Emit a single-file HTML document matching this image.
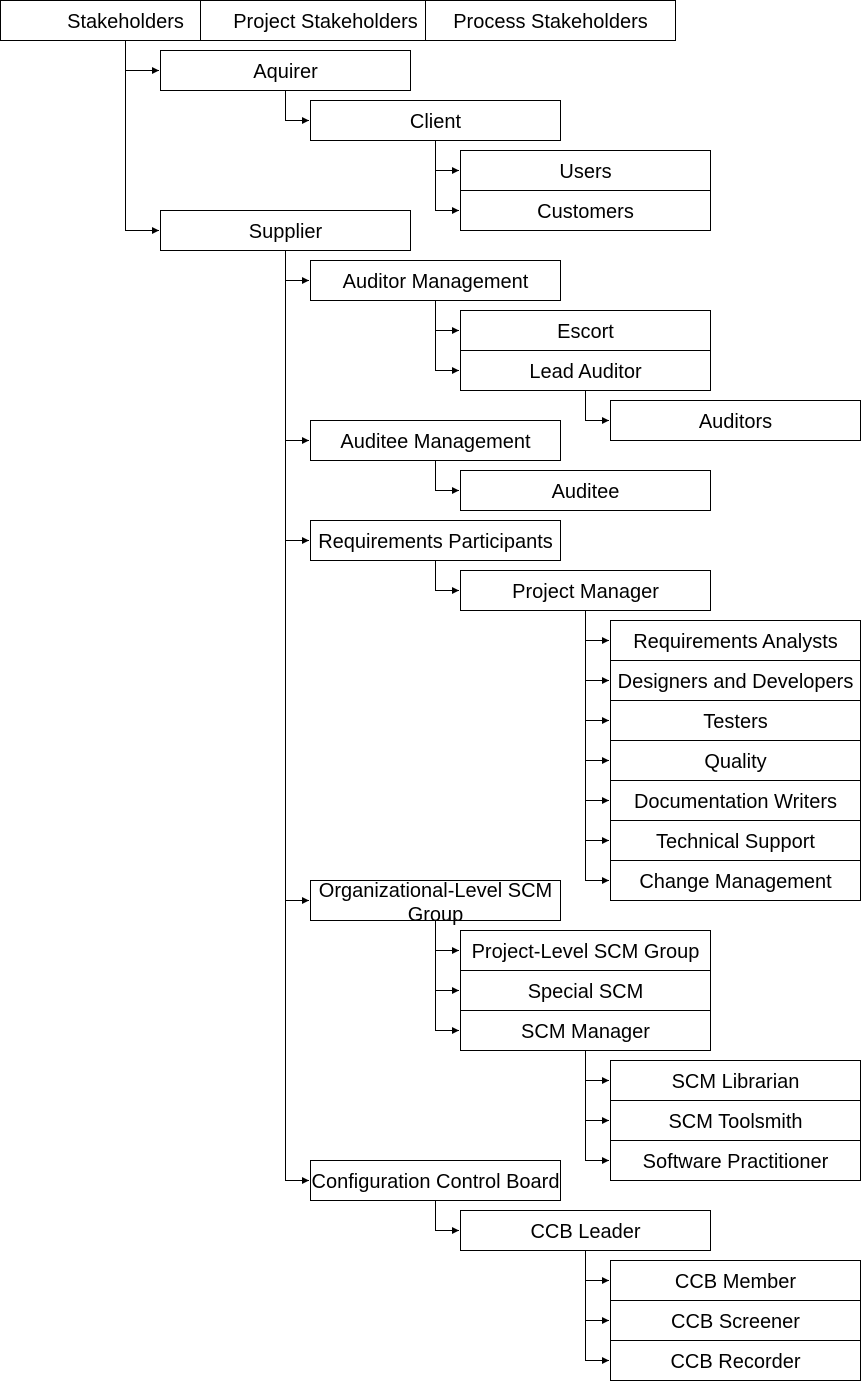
<!DOCTYPE html>
<html><head><meta charset="utf-8"><style>
html,body{margin:0;padding:0;background:#fff;}
svg{display:block;}
text{font-family:"Liberation Sans",sans-serif;font-size:20px;fill:#000;text-anchor:middle;dominant-baseline:central;}
rect{fill:#fff;stroke:#000;stroke-width:1;}
path.c{fill:none;stroke:#000;stroke-width:1;}
</style></head><body>
<svg width="861" height="1381" viewBox="0 0 861 1381">
<defs><marker id="a" markerWidth="8" markerHeight="8" refX="7" refY="4" orient="auto" markerUnits="userSpaceOnUse"><path d="M0,0.5 L7,4 L0,7.5 Z" fill="#000"/></marker></defs>
<g id="g"></g>
</svg>
<script>
var g=document.getElementById('g'),ns='http://www.w3.org/2000/svg';
function box(x,y,t,w){w=w||250;var r=document.createElementNS(ns,'rect');r.setAttribute('x',x+0.5);r.setAttribute('y',y+0.5);r.setAttribute('width',w);r.setAttribute('height',40);g.appendChild(r);
var tx=document.createElementNS(ns,'text');tx.setAttribute('x',x+w/2+0.5);tx.setAttribute('y',y+22);tx.textContent=t;g.appendChild(tx);}
function lbl(x,y,t){var tx=document.createElementNS(ns,'text');tx.setAttribute('x',x);tx.setAttribute('y',y);tx.textContent=t;g.appendChild(tx);}
function edge(px,py,cx,cy){var p=document.createElementNS(ns,'path');p.setAttribute('class','c');p.setAttribute('d','M'+(px+0.5)+','+(py+0.5)+' V'+(cy+0.5)+' H'+(cx-1));p.setAttribute('marker-end','url(#a)');g.appendChild(p);}
function kids(lx,pb,cx,tops){tops.forEach(function(t){edge(lx,pb,cx,t+20);});}
kids(125,40,160,[50,210]);
kids(285,90,310,[100]);
kids(435,140,460,[150,190]);
kids(285,250,310,[260,420,520,880,1160]);
kids(435,300,460,[310,350]);
kids(585,390,610,[400]);
kids(435,460,460,[470]);
kids(435,560,460,[570]);
kids(585,610,610,[620,660,700,740,780,820,860]);
kids(435,920,460,[930,970,1010]);
kids(585,1050,610,[1060,1100,1140]);
kids(435,1200,460,[1210]);
kids(585,1250,610,[1260,1300,1340]);
box(0,0,'Stakeholders');box(200,0,'Project Stakeholders');box(425,0,'Process Stakeholders');
box(160,50,'Aquirer');box(310,100,'Client');box(460,150,'Users');box(460,190,'Customers');
box(160,210,'Supplier');
box(310,260,'Auditor Management');box(460,310,'Escort');box(460,350,'Lead Auditor');box(610,400,'Auditors');
box(310,420,'Auditee Management');box(460,470,'Auditee');
box(310,520,'Requirements Participants');box(460,570,'Project Manager');
['Requirements Analysts','Designers and Developers','Testers','Quality','Documentation Writers','Technical Support','Change Management'].forEach(function(t,i){box(610,620+40*i,t);});
var r=document.createElementNS(ns,'rect');r.setAttribute('x',310.5);r.setAttribute('y',880.5);r.setAttribute('width',250);r.setAttribute('height',40);g.appendChild(r);
lbl(435.5,891,'Organizational-Level SCM');lbl(435.5,915,'Group');
box(460,930,'Project-Level SCM Group');box(460,970,'Special SCM');box(460,1010,'SCM Manager');
box(610,1060,'SCM Librarian');box(610,1100,'SCM Toolsmith');box(610,1140,'Software Practitioner');
box(310,1160,'Configuration Control Board');box(460,1210,'CCB Leader');
box(610,1260,'CCB Member');box(610,1300,'CCB Screener');box(610,1340,'CCB Recorder');
</script>
</body></html>
